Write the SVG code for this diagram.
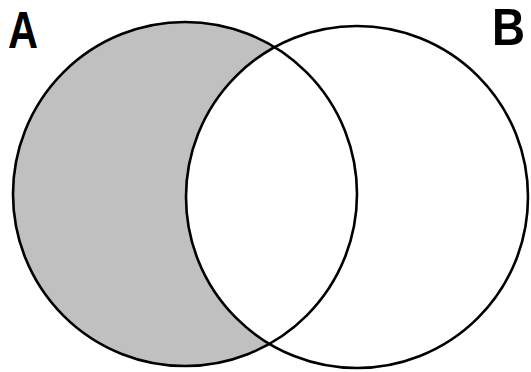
<svg xmlns="http://www.w3.org/2000/svg" width="531" height="372" viewBox="0 0 531 372">
<style>
.lbl{font-family:"Liberation Sans",Arial,sans-serif;font-weight:bold;font-size:52px;fill:#000}
.ring{fill:none;stroke:#000;stroke-width:2.6}
</style>
<rect width="531" height="372" fill="#fff"/>
<g id="fills">
<circle cx="185" cy="194" r="172" fill="#c0c0c0"/>
<circle cx="357" cy="197" r="171" fill="#fff"/>
</g>
<g id="setA">
<circle class="ring" cx="185" cy="194" r="172"/>
<text class="lbl" transform="translate(8,48) scale(0.8,1)">A</text>
</g>
<g id="setB">
<circle class="ring" cx="357" cy="197" r="171"/>
<text class="lbl" transform="translate(492,45) scale(0.88,1)" font-size="48">B</text>
</g>
</svg>
